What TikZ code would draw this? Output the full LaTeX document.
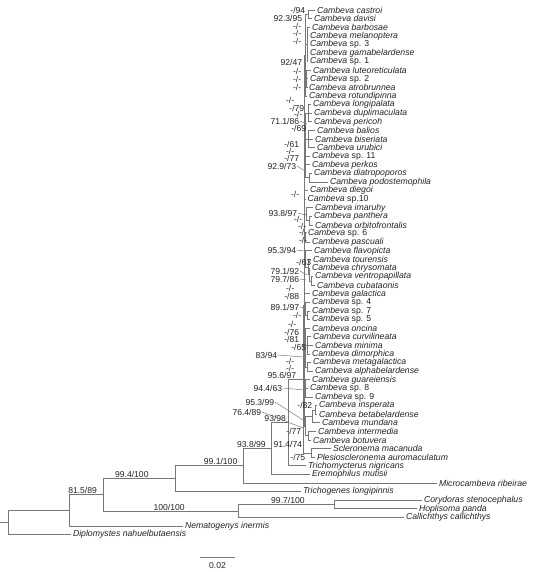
\documentclass[tikz,border=0pt]{standalone}
\usepackage{fontspec}
\setmainfont{Liberation Sans}
\usetikzlibrary{calc}
\definecolor{branch}{RGB}{120,120,120}
\definecolor{ink}{RGB}{35,35,35}
\newcommand\tipnode[4]{\coordinate (#1) at (#3,#2); \node[taxon] (#1t) at (#1) {#4};}
\begin{document}
\begin{tikzpicture}[x=1pt,y=-8.6pt,
  taxon/.style={anchor=west,inner sep=0pt,xshift=1.8pt,font=\fontsize{8.7}{9}\selectfont\itshape,text=ink},
  sup/.style={inner sep=0.6pt,font=\fontsize{8.6}{9}\selectfont,text=ink},
  br/.style={draw=branch,line width=0.8pt},
  lead/.style={draw=branch,line width=0.5pt}]
\useasboundingbox (0,-0.1628) rectangle (550,66.349);
% ---------- tips ----------
\tipnode{t1}{1}{315}{Cambeva castroi}
\tipnode{t2}{2}{312}{Cambeva davisi}
\tipnode{t3}{3}{310}{Cambeva barbosae}
\tipnode{t4}{4}{308}{Cambeva melanoptera}
\tipnode{t5}{5}{308}{Cambeva \upshape sp. 3}
\tipnode{t6}{6}{308}{Cambeva gamabelardense}
\tipnode{t7}{7}{308}{Cambeva \upshape sp. 1}
\tipnode{t8}{8}{311}{Cambeva luteoreticulata}
\tipnode{t9}{9}{308}{Cambeva \upshape sp. 2}
\tipnode{t10}{10}{307}{Cambeva atrobrunnea}
\tipnode{t11}{11}{307}{Cambeva rotundipinna}
\tipnode{t12}{12}{311}{Cambeva longipalata}
\tipnode{t13}{13}{312}{Cambeva duplimaculata}
\tipnode{t14}{14}{312}{Cambeva pericoh}
\tipnode{t15}{15}{315}{Cambeva balios}
\tipnode{t16}{16}{313}{Cambeva biseriata}
\tipnode{t17}{17}{315}{Cambeva urubici}
\tipnode{t18}{18}{310}{Cambeva \upshape sp. 11}
\tipnode{t19}{19}{310}{Cambeva perkos}
\tipnode{t20}{20}{312}{Cambeva diatropoporos}
\tipnode{t21}{21}{328}{Cambeva podostemophila}
\tipnode{t22}{22}{308}{Cambeva diegoi}
\tipnode{t23}{23}{305.5}{Cambeva \upshape sp.10}
\tipnode{t24}{24}{313}{Cambeva imaruhy}
\tipnode{t25}{25}{312}{Cambeva panthera}
\tipnode{t26}{26}{313}{Cambeva orbitofrontalis}
\tipnode{t27}{27}{306}{Cambeva \upshape sp. 6}
\tipnode{t28}{28}{310}{Cambeva pascuali}
\tipnode{t29}{29}{312}{Cambeva flavopicta}
\tipnode{t30}{30}{311}{Cambeva tourensis}
\tipnode{t31}{31}{310}{Cambeva chrysomata}
\tipnode{t32}{32}{313}{Cambeva ventropapillata}
\tipnode{t33}{33}{315}{Cambeva cubataonis}
\tipnode{t34}{34}{310}{Cambeva galactica}
\tipnode{t35}{35}{310}{Cambeva \upshape sp. 4}
\tipnode{t36}{36}{310}{Cambeva \upshape sp. 7}
\tipnode{t37}{37}{310}{Cambeva \upshape sp. 5}
\tipnode{t38}{38}{310}{Cambeva oncina}
\tipnode{t39}{39}{311}{Cambeva curvilineata}
\tipnode{t40}{40}{313}{Cambeva minima}
\tipnode{t41}{41}{310}{Cambeva dimorphica}
\tipnode{t42}{42}{311}{Cambeva metagalactica}
\tipnode{t43}{43}{313}{Cambeva alphabelardense}
\tipnode{t44}{44}{310}{Cambeva guareiensis}
\tipnode{t45}{45}{308}{Cambeva \upshape sp. 8}
\tipnode{t46}{46}{313}{Cambeva \upshape sp. 9}
\tipnode{t47}{47}{317}{Cambeva insperata}
\tipnode{t48}{48}{317}{Cambeva betabelardense}
\tipnode{t49}{49}{320}{Cambeva mundana}
\tipnode{t50}{50}{316}{Cambeva intermedia}
\tipnode{t51}{51}{311}{Cambeva botuvera}
\tipnode{t52}{52}{331}{Scleronema macanuda}
\tipnode{t53}{53}{315}{Plesioscleronema auromaculatum}
\tipnode{t54}{54}{306}{Trichomycterus nigricans}
\tipnode{t55}{55}{310}{Eremophilus mutisii}
\tipnode{t56}{56}{437}{Microcambeva ribeirae}
\tipnode{t57}{57}{301}{Trichogenes longipinnis}
\tipnode{t58}{58}{422}{Corydoras stenocephalus}
\tipnode{t59}{59}{417}{Hoplisoma panda}
\tipnode{t60}{60}{404}{Callichthys callichthys}
\tipnode{t61}{61}{183}{Nematogenys inermis}
\tipnode{t62}{62}{71}{Diplomystes nahuelbutaensis}
% ---------- internal nodes ----------
\coordinate (a1) at (308,1.5);
\coordinate (a2) at (307,5);
\coordinate (a3) at (306.5,9);
\coordinate (T1) at (305,6.25);
\coordinate (b1) at (308,13);
\coordinate (b2) at (308,16);
\coordinate (b4) at (309,20.5);
\coordinate (T2) at (305,16.75);
\coordinate (Dg) at (304.5,22.5);
\coordinate (c1) at (309,25.5);
\coordinate (T3) at (306,24.75);
\coordinate (E6) at (305,27.5);
\coordinate (f3) at (311,32.5);
\coordinate (f2) at (309,31.75);
\coordinate (f1) at (308,30.875);
\coordinate (T4) at (305,29.94);
\coordinate (g1) at (307,36.5);
\coordinate (T5) at (305,35.75);
\coordinate (h1) at (307,40);
\coordinate (h2) at (307,42.5);
\coordinate (T6) at (305,40.25);
\coordinate (T7) at (305,45);
\coordinate (v2) at (315,47.5);
\coordinate (v1) at (312,48.25);
\coordinate (v3) at (308,50.5);
\coordinate (V) at (305,49.375);
\coordinate (CB) at (304,35.3);
\coordinate (M) at (311,52.5);
\coordinate (N) at (303,43.9);
\coordinate (H) at (288,48.95);
\coordinate (G) at (271,51.975);
\coordinate (F) at (243,53.99);
\coordinate (E) at (175,55.49);
\coordinate (Dc) at (334,58.5);
\coordinate (C) at (238,59.25);
\coordinate (B) at (103,57.37);
\coordinate (A) at (69,59.19);
\coordinate (R) at (8,60.59);
\coordinate (R0) at (0,60.59);
% ---------- branches ----------
\draw[br] (R0) -- (R);
\foreach \p/\c in {R/A,R/t62,A/B,A/t61,B/E,B/C,C/Dc,C/t60,Dc/t58,Dc/t59,
  E/F,E/t57,F/G,F/t56,G/H,G/t55,H/N,H/t54,N/CB,N/M,M/t52,M/t53,
  CB/T1,CB/T2,CB/Dg,CB/T3,CB/E6,CB/T4,CB/t34,CB/T5,CB/T6,CB/T7,CB/V,
  T1/a1,T1/a2,T1/a3,T1/t11,a1/t1,a1/t2,a2/t3,a2/t4,a2/t5,a2/t6,a2/t7,
  a3/t8,a3/t9,a3/t10,T2/b1,T2/b2,T2/t18,T2/t19,T2/b4,b1/t12,b1/t13,b1/t14,
  b2/t15,b2/t16,b2/t17,b4/t20,b4/t21,Dg/t22,Dg/t23,T3/t24,T3/c1,c1/t25,c1/t26,
  E6/t27,E6/t28,T4/t29,T4/f1,f1/t30,f1/f2,f2/t31,f2/f3,f3/t32,f3/t33,
  T5/t35,T5/g1,g1/t36,g1/t37,T6/t38,T6/h1,T6/h2,h1/t39,h1/t40,h1/t41,h2/t42,h2/t43,
  T7/t44,T7/t45,T7/t46,V/v1,V/v3,v1/v2,v1/t49,v2/t47,v2/t48,v3/t50,v3/t51}
  \draw[br] (\p) |- (\c);
% ---------- support values on long branches ----------
\path (A |- B) -- (B) node[sup,anchor=south,pos=0.4] (s815) {81.5/89};
\path (B |- E) -- (E) node[sup,anchor=south,pos=0.4] (s994) {99.4/100};
\path (B |- C) -- (C) node[sup,anchor=south,pos=0.49] (s100) {100/100};
\path (C |- Dc) -- (Dc) node[sup,anchor=south,pos=0.52] (s997) {99.7/100};
\path (E |- F) -- (F) node[sup,anchor=south,pos=0.67] (s991) {99.1/100};
\path (F |- G) -- (G) node[sup,anchor=south,pos=0.3] (s938) {93.8/99};
\path (G |- H) -- (H) node[sup,anchor=south,pos=0.25] (s9398) {93/98};
% ---------- support values in the Cambeva clade (pixel scope) ----------
\begin{scope}[y=-1pt,yshift=1.4pt]
\node[sup,anchor=east] (l01) at (306,10) {-/94};
\node[sup,anchor=east] (l02) at (303,18) {92.3/95};
\node[sup,anchor=east] (l03) at (302,26) {-/-};
\node[sup,anchor=east] (l04) at (302,33.5) {-/-};
\node[sup,anchor=east] (l05) at (302,41) {-/-};
\node[sup,anchor=east] (l06) at (303,62) {92/47};
\node[sup,anchor=east] (l07) at (302,71) {-/-};
\node[sup,anchor=east] (l08) at (302,79) {-/-};
\node[sup,anchor=east] (l09) at (302,87) {-/-};
\node[sup,anchor=east] (l10) at (295,100) {-/-};
\node[sup,anchor=east] (l11) at (305,108) {-/79};
\node[sup,anchor=east] (l12) at (303,114.5) {-/-};
\node[sup,anchor=east] (l13) at (300,121) {71.1/86};
\node[sup,anchor=east] (l14) at (307,128) {-/69};
\node[sup,anchor=east] (l15) at (300,144) {-/61};
\node[sup,anchor=east] (l16) at (295,151.5) {-/-};
\node[sup,anchor=east] (l17) at (300,158.5) {-/77};
\node[sup,anchor=east] (l18) at (297,166) {92.9/73};
\node[sup,anchor=east] (l19) at (300,194) {-/-};
\node[sup,anchor=east] (l20) at (298,213) {93.8/97};
\node[sup,anchor=east] (l21) at (303,219.5) {-/-};
\node[sup,anchor=east] (l22) at (307,226) {-/-};
\node[sup,anchor=east] (l23) at (308,232) {-/-};
\node[sup,anchor=east] (l24) at (308,240) {-/-};
\node[sup,anchor=east] (l25) at (297,250) {95.3/94};
\node[sup,anchor=east] (l26) at (312,262) {-/63};
\node[sup,anchor=east] (l27) at (300,271) {79.1/92};
\node[sup,anchor=east] (l28) at (300,279) {79.7/86};
\node[sup,anchor=east] (l29) at (295,288) {-/-};
\node[sup,anchor=east] (l30) at (300,296) {-/88};
\node[sup,anchor=east] (l31) at (300,307) {89.1/97};
\node[sup,anchor=east] (l32) at (302,315) {-/-};
\node[sup,anchor=east] (l33) at (297,324) {-/-};
\node[sup,anchor=east] (l34) at (300,332) {-/76};
\node[sup,anchor=east] (l35) at (300,339.5) {-/81};
\node[sup,anchor=east] (l36) at (307,347) {-/65};
\node[sup,anchor=east] (l37) at (278,355) {83/94};
\node[sup,anchor=east] (l38) at (295,361) {-/-};
\node[sup,anchor=east] (l39) at (295,368) {-/-};
\node[sup,anchor=east] (l40) at (297,375) {95.6/97};
\node[sup,anchor=east] (l41) at (283,388) {94.4/63};
\node[sup,anchor=east] (l42) at (275,402) {95.3/99};
\node[sup,anchor=east] (l43) at (313,405) {-/82};
\node[sup,anchor=east] (l44) at (262,412) {76.4/89};
\node[sup,anchor=east] (l45) at (302,431) {-/77};
\node[sup,anchor=east] (l46) at (303,444) {91.4/74};
\node[sup,anchor=east] (l47) at (306,457) {-/75};
% leader ends
\coordinate (k13) at (307,124);
\coordinate (k18) at (305,171);
\coordinate (k20) at (305,215);
\coordinate (k25) at (304,251);
\coordinate (k27) at (307,275);
\coordinate (k28) at (306,280);
\coordinate (k31) at (305,308);
\coordinate (k37) at (304,357);
\coordinate (k41) at (304,390);
\coordinate (k42) at (303,420);
\coordinate (k44) at (303,428);
\foreach \l/\k in {l13/k13,l18/k18,l20/k20,l25/k25,l27/k27,l28/k28,l31/k31,l37/k37,l41/k41,l42/k42,l44/k44}
  \draw[lead] (\l.east) -- (\k);
% scale bar
\coordinate (sb1) at (200,557);
\coordinate (sb2) at (235,557);
\draw[br] (sb1) -- (sb2);
\node[sup] (sbl) at (217.5,566) {0.02};
\end{scope}
\end{tikzpicture}
\end{document}
